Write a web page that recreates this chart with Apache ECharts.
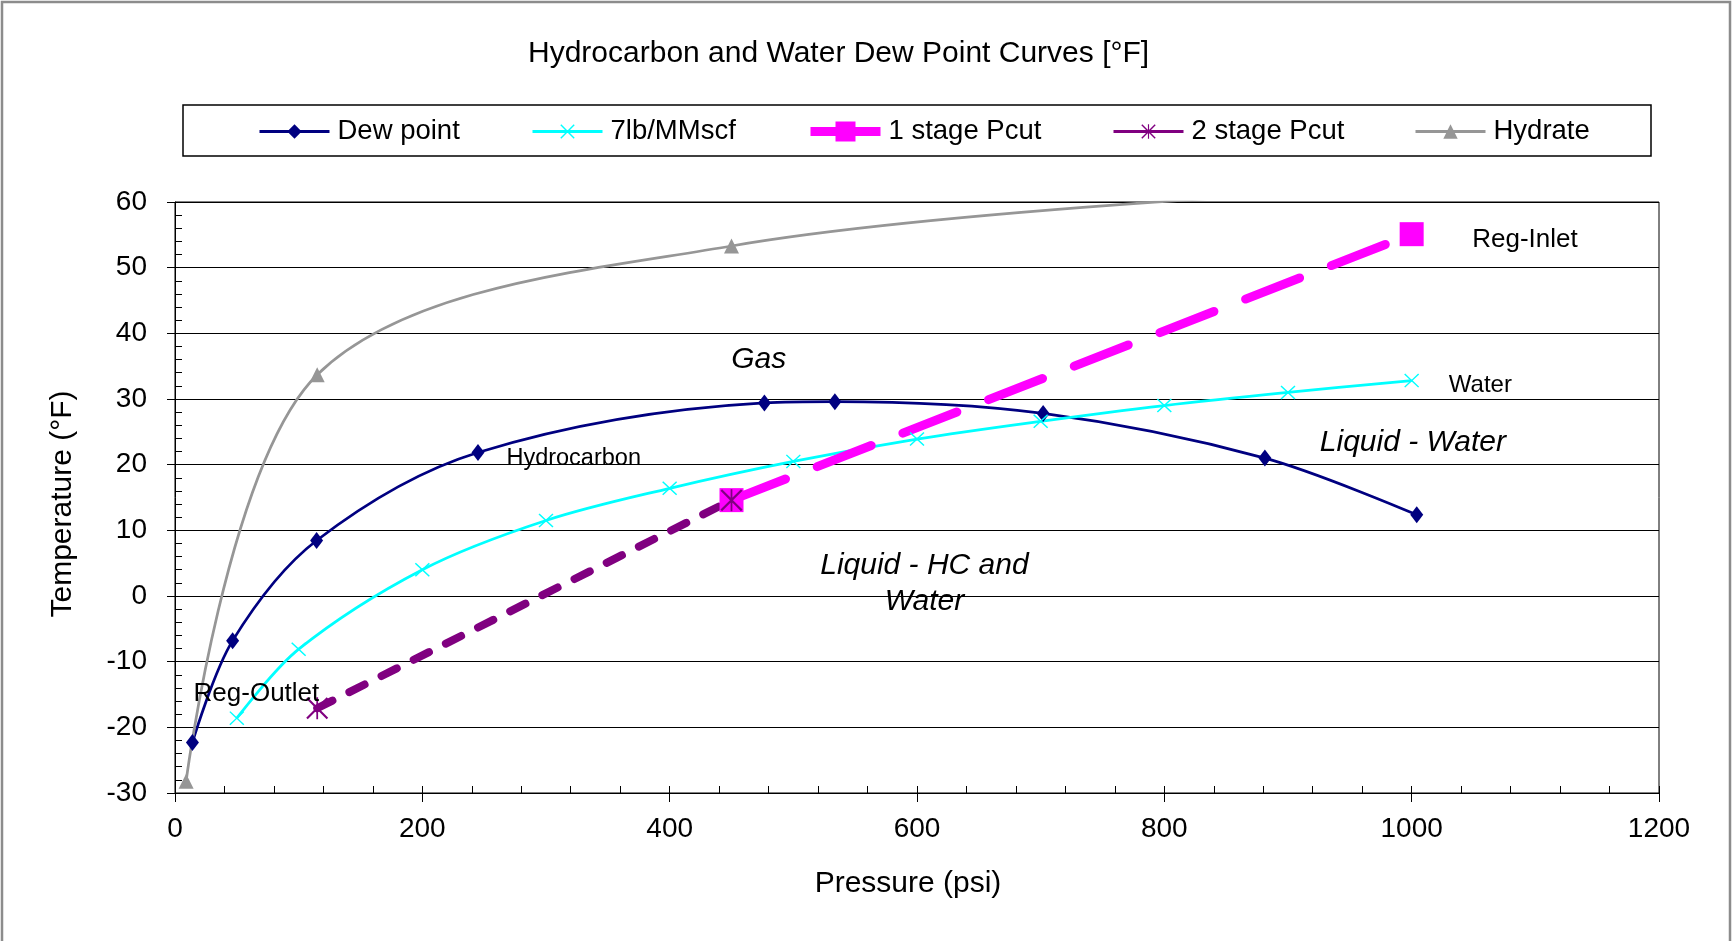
<!DOCTYPE html>
<html>
<head>
<meta charset="utf-8">
<script src="https://cdn.jsdelivr.net/npm/echarts@6/dist/echarts.min.js"></script>
<style>
  html, body { margin: 0; padding: 0; background: #fff; }
  #chart { width: 1733px; height: 941px; }
</style>
</head>
<body>
<div id="chart"></div>
<script>
// ---- data: pressure (psi) vs temperature (°F) ----
const dewP   = [14.1, 46.6, 114.5, 245, 476.6, 533.6, 702, 881.3, 1004.1];
const dewT   = [-22.3, -6.8, 8.45, 21.85, 29.4, 29.6, 27.8, 21.0, 12.36];

const waterP = [50, 100, 200, 300, 400, 500, 600, 700, 800, 900, 1000];
const waterT = [-18.6, -8.1, 4.0, 11.5, 16.4, 20.5, 23.9, 26.6, 29.0, 31.0, 32.8];

const pcut1P = [450, 1000];
const pcut1T = [14.6, 55.1];

const pcut2P = [115, 450];
const pcut2T = [-17.1, 14.6];

const hydP   = [9, 115, 450, 1000];
const hydT   = [-28.2, 33.7, 53.3, 62.3];

const seriesNames = ['Dew point', '7lb/MMscf', '1 stage Pcut', '2 stage Pcut', 'Hydrate'];
const xTicks = { min: 0, max: 1200, step: 200 };
const yTicks = { min: -30, max: 60, step: 10 };

// ---- helpers ----
const zip = (xs, ys) => xs.map((x, i) => [x, ys[i]]);
const FONT = '"Liberation Sans", Arial, sans-serif';

// cross and asterisk marker shapes (filled outlines)
const X_PATH = 'path://M0,1.4L1.4,0L10,8.6L18.6,0L20,1.4L11.4,10L20,18.6L18.6,20L10,11.4L1.4,20L0,18.6L8.6,10Z';
const STAR_PATH = 'path://M0,1.4L1.4,0L10,8.6L18.6,0L20,1.4L11.4,10L20,18.6L18.6,20L10,11.4L1.4,20L0,18.6L8.6,10Z M9.2,0L10.8,0L10.8,20L9.2,20Z';

const NAVY = '#000080', CYAN = '#00FFFF', MAGENTA = '#FF00FF', PURPLE = '#800080', GRAY = '#969696';
const SMOOTH = 0.33;

// text annotations placed in data coordinates
const notes = [
  { text: 'Gas',                    at: [472, 36.0],  align: 'center', size: 30, italic: true },
  { text: 'Hydrocarbon',            at: [268, 21.0],  align: 'left',   size: 23.5 },
  { text: 'Water',                  at: [1030, 32.0], align: 'left',   size: 24 },
  { text: 'Liquid - Water',         at: [1001, 23.3], align: 'center', size: 30, italic: true },
  { text: 'Liquid - HC and\nWater', at: [606, 1.9],   align: 'center', size: 30, italic: true, lineHeight: 36 },
  { text: 'Reg-Inlet',              at: [1049, 54.3], align: 'left',   size: 26 },
  { text: 'Reg-Outlet',             at: [15, -14.9],  align: 'left',   size: 26 }
];

const chart = echarts.init(document.getElementById('chart'), null, { renderer: 'canvas' });

// one legend block per entry so each sits at its own spot in the framed row
const legendLeft = [258, 531, 806, 1112, 1414];
const legendColor = [NAVY, CYAN, MAGENTA, PURPLE, GRAY];
const legends = seriesNames.map((name, i) => ({
  data: [name],
  left: legendLeft[i],
  top: 117.5,
  padding: 0,
  itemWidth: 70,
  itemHeight: i === 2 ? 25 : 18,
  itemGap: 0,
  selectedMode: false,
  lineStyle: { type: 'solid', color: legendColor[i], width: i === 2 ? 9 : 3, cap: 'butt' },
  textStyle: { fontSize: 27.5, color: '#000', fontFamily: FONT, padding: [0, 0, 0, 3] }
}));

const axisText = { fontSize: 28, color: '#000', fontFamily: FONT };
const axisName = { fontSize: 30, color: '#000', fontFamily: FONT };

const option = {
  animation: false,
  backgroundColor: '#fff',
  title: {
    text: 'Hydrocarbon and Water Dew Point Curves [°F]',
    left: 528,
    top: 39,
    padding: 0,
    textStyle: { fontSize: 30, fontWeight: 'normal', color: '#000', fontFamily: FONT }
  },
  legend: legends,
  grid: {
    left: 175, top: 202, width: 1484, height: 591,
    show: true, borderColor: '#000', borderWidth: 1,
    containLabel: false, outerBoundsMode: 'none'
  },
  graphic: [
    { type: 'rect', silent: true, z: -1,
      shape: { x: 2, y: 2, width: 1728, height: 1000 },
      style: { fill: 'none', stroke: '#8c8c8c', lineWidth: 2.5 } },
    { type: 'rect', silent: true, z: -1,
      shape: { x: 183, y: 105, width: 1468, height: 51 },
      style: { fill: 'none', stroke: '#000', lineWidth: 1.5 } }
  ],
  xAxis: [
    {
      type: 'value', min: xTicks.min, max: xTicks.max, interval: xTicks.step,
      name: 'Pressure (psi)', nameLocation: 'middle', nameGap: 76,
      nameTextStyle: Object.assign({ padding: [0, 18, 0, 0] }, axisName),
      axisLine: { show: true, onZero: false, lineStyle: { color: '#000', width: 1 } },
      axisTick: { show: true, inside: false, length: 9, lineStyle: { color: '#000', width: 1 } },
      axisLabel: Object.assign({ margin: 22, formatter: v => String(v) }, axisText),
      splitLine: { show: false }
    },
    {
      type: 'value', position: 'bottom', min: xTicks.min, max: xTicks.max, interval: 40,
      axisLine: { show: false, onZero: false },
      axisTick: { show: true, inside: true, length: 7, lineStyle: { color: '#000', width: 1 } },
      axisLabel: { show: false },
      splitLine: { show: false }
    }
  ],
  yAxis: [
    {
      type: 'value', min: yTicks.min, max: yTicks.max, interval: yTicks.step,
      name: 'Temperature (°F)', nameLocation: 'middle', nameGap: 97, nameRotate: 90,
      nameTextStyle: Object.assign({ padding: [0, 13, 0, 0] }, axisName),
      axisLine: { show: true, onZero: false, lineStyle: { color: '#000', width: 1 } },
      axisTick: { show: true, inside: false, length: 8, lineStyle: { color: '#000', width: 1 } },
      axisLabel: Object.assign({ margin: 28 }, axisText),
      splitLine: { show: true, lineStyle: { color: '#000', width: 1 } }
    },
    {
      type: 'value', position: 'left', min: yTicks.min, max: yTicks.max, interval: 2,
      axisLine: { show: false, onZero: false },
      axisTick: { show: true, inside: true, length: 7, lineStyle: { color: '#000', width: 1 } },
      axisLabel: { show: false },
      splitLine: { show: false }
    }
  ],
  series: [
    {
      name: seriesNames[0], type: 'line', data: zip(dewP, dewT), smooth: SMOOTH,
      symbol: 'diamond', symbolSize: [13, 17],
      color: NAVY, lineStyle: { color: NAVY, width: 2.75 }, itemStyle: { color: NAVY }
    },
    {
      name: seriesNames[1], type: 'line', data: zip(waterP, waterT), smooth: SMOOTH,
      symbol: X_PATH, symbolSize: [15, 14],
      color: CYAN, lineStyle: { color: CYAN, width: 2.75 }, itemStyle: { color: CYAN }
    },
    {
      name: seriesNames[2], type: 'line', data: zip(pcut1P, pcut1T),
      symbol: 'rect', symbolSize: 24,
      color: MAGENTA, lineStyle: { color: MAGENTA, width: 9, type: [58, 34], cap: 'round' },
      itemStyle: { color: MAGENTA }
    },
    {
      name: seriesNames[3], type: 'line', data: zip(pcut2P, pcut2T),
      symbol: STAR_PATH, symbolSize: 22,
      color: PURPLE, lineStyle: { color: PURPLE, width: 8, type: [17, 19], cap: 'round' },
      itemStyle: { color: PURPLE }
    },
    {
      name: seriesNames[4], type: 'line', data: zip(hydP, hydT), smooth: SMOOTH,
      symbol: 'triangle', symbolSize: 15, clip: true,
      color: GRAY, lineStyle: { color: GRAY, width: 2.75 }, itemStyle: { color: GRAY }
    },
    {
      name: 'notes', type: 'scatter', silent: true, z: 10,
      symbolSize: 1, itemStyle: { color: 'transparent', opacity: 1 },
      data: notes.map(n => ({
        value: n.at,
        label: {
          show: true, position: 'inside', formatter: n.text,
          align: n.align, verticalAlign: 'middle',
          fontSize: n.size, fontStyle: n.italic ? 'italic' : 'normal',
          lineHeight: n.lineHeight || Math.round(n.size * 1.2),
          color: '#000', opacity: 1, textBorderWidth: 0, fontFamily: FONT
        }
      }))
    }
  ]
};

chart.setOption(option);
</script>
</body>
</html>
